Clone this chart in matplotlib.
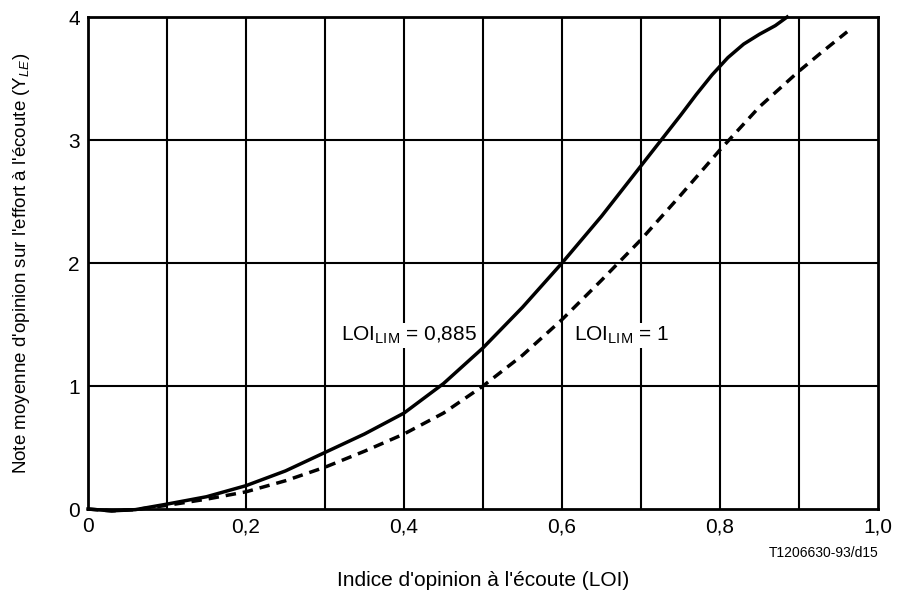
import matplotlib.pyplot as plt

plt.rcParams['font.family'] = ['Liberation Sans', 'DejaVu Sans']
plt.rcParams['mathtext.fontset'] = 'custom'
plt.rcParams['mathtext.rm'] = 'Liberation Sans'
plt.rcParams['mathtext.it'] = 'Liberation Sans:italic'

# LOI_LIM = 0,885 (solid)
loi_solid = [0.0, 0.03, 0.06, 0.1, 0.15, 0.2, 0.25, 0.3, 0.35, 0.4, 0.45, 0.5,
             0.55, 0.6, 0.65, 0.7, 0.75, 0.77, 0.79, 0.81, 0.83, 0.85, 0.87, 0.885]
yle_solid = [0.0, -0.015, -0.005, 0.04, 0.1, 0.19, 0.31, 0.46, 0.61, 0.78, 1.02, 1.31,
             1.64, 2.0, 2.38, 2.79, 3.2, 3.37, 3.53, 3.67, 3.78, 3.86, 3.93, 4.0]

# LOI_LIM = 1 (dashed)
loi_dash = [0.0, 0.03, 0.06, 0.1, 0.15, 0.2, 0.25, 0.3, 0.35, 0.4, 0.45, 0.5,
            0.55, 0.6, 0.65, 0.7, 0.75, 0.8, 0.85, 0.9, 0.93, 0.961]
yle_dash = [0.0, -0.015, -0.005, 0.03, 0.08, 0.14, 0.23, 0.34, 0.47, 0.61, 0.78, 1.0,
            1.25, 1.54, 1.86, 2.19, 2.55, 2.92, 3.27, 3.56, 3.72, 3.88]

x_ticks = [0, 0.2, 0.4, 0.6, 0.8, 1.0]
x_ticklabels = ['0', '0,2', '0,4', '0,6', '0,8', '1,0']
y_ticks = [0, 1, 2, 3, 4]

fig = plt.figure(figsize=(8.98, 5.91), dpi=100)
ax = fig.add_axes([0.098, 0.1387, 0.8797, 0.8325])

for v in [0.1, 0.2, 0.3, 0.4, 0.5, 0.6, 0.7, 0.8, 0.9]:
    ax.axvline(v, color='black', lw=1.5, zorder=1)
for h in [1, 2, 3]:
    ax.axhline(h, color='black', lw=1.5, zorder=1)

ax.plot(loi_solid, yle_solid, color='black', lw=2.5, zorder=3, clip_on=False)
ax.plot(loi_dash, yle_dash, color='black', lw=2.5, ls=(0, (3, 2)), zorder=3, clip_on=False)

ax.text(0.32, 1.41, r'LOI$_{\mathrm{LIM}}$ = 0,885', fontsize=15, va='center', ha='left',
        zorder=2, bbox=dict(facecolor='white', edgecolor='none', pad=1))
ax.text(0.615, 1.41, r'LOI$_{\mathrm{LIM}}$ = 1', fontsize=15, va='center', ha='left',
        zorder=2, bbox=dict(facecolor='white', edgecolor='none', pad=1))

ax.set_xlim(0, 1.0)
ax.set_ylim(0, 4)
ax.set_xticks(x_ticks)
ax.set_xticklabels(x_ticklabels)
ax.set_yticks(y_ticks)
ax.tick_params(length=0, labelsize=15, pad=6)
for s in ax.spines.values():
    s.set_linewidth(2)

ax.set_xlabel("Indice d'opinion à l'écoute (LOI)", fontsize=15)
ax.xaxis.set_label_coords(0.5, -0.125)
ax.set_ylabel(r"Note moyenne d'opinion sur l'effort à l'écoute (Y$_{\mathit{LE}}$)", fontsize=13.5)
ax.yaxis.set_label_coords(-0.071, 0.5)
fig.text(0.978, 0.064, 'T1206630-93/d15', fontsize=10, ha='right', va='center')

fig.savefig('out.png', dpi=100)
